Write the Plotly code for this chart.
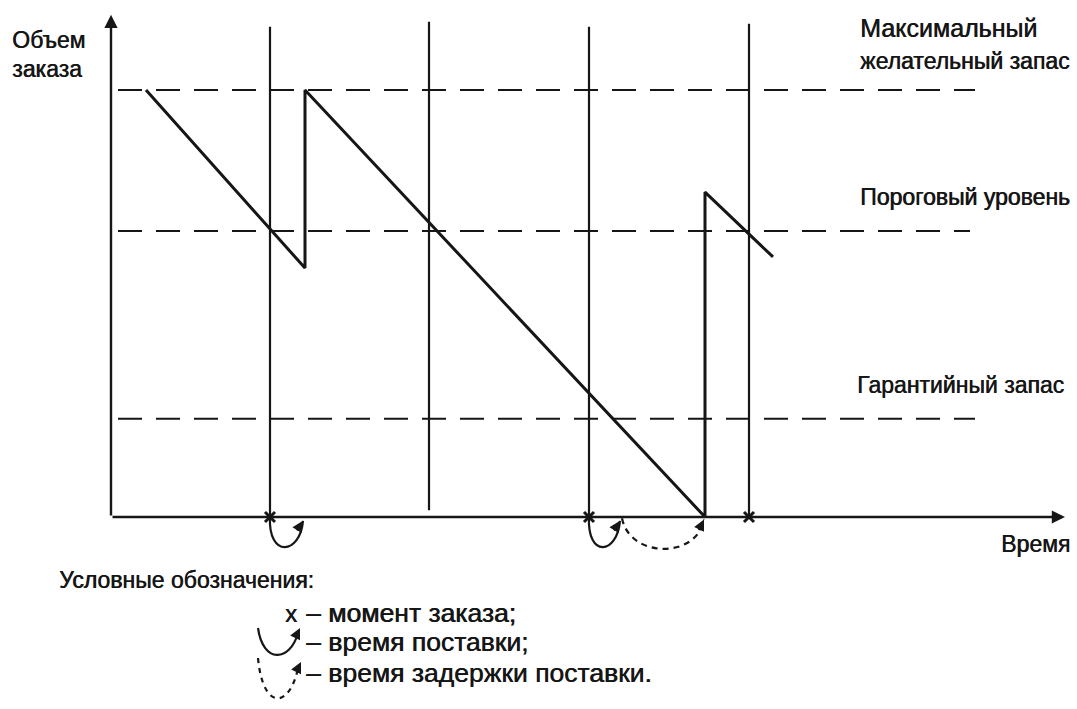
import plotly.graph_objects as go

# ---------------- data (time units, stock in % of max desired stock) -------------
stock_time = [3.5, 19.4, 19.4, 59.4, 59.4, 66.2]
stock_level = [100.0, 58.3, 100.0, 0.0, 76.1, 60.9]

order_times = [15.9, 47.8, 63.8]          # moments of order (x marks)
order_line_top = [114.8, 114.8, 115.5]
check_time = [31.8]                        # extra vertical line
check_line = [1.6, 116.0]

delivery_start = [15.9, 47.8]              # solid arcs: order -> delivery
delivery_end = [19.4, 51.1]
delay_start = [51.1]                       # dashed arc: delivery delay
delay_end = [59.4]

level_names = ["Максимальный<br>желательный запас", "Пороговый уровень", "Гарантийный запас"]
level_values = [100.0, 67.0, 23.0]
level_x_end = [86.4, 85.9, 86.4]
level_x_start = 0.7

x_axis_end = 95.4
y_axis_top = 117.6

INK = "#161616"
FONT = "Liberation Sans, Arial, sans-serif"
SHADOW = "0.6px 0px 0px #161616"
W, H = 1077, 709

fig = go.Figure()

# dashed level lines
for v, xe in zip(level_values, level_x_end):
    fig.add_trace(go.Scatter(x=[level_x_start, xe], y=[v, v], mode="lines",
                             line=dict(color=INK, width=2, dash="24px,14px"),
                             hoverinfo="skip", showlegend=False))

# vertical order lines
vx, vy = [], []
for t, top in zip(order_times, order_line_top):
    vx += [t, t, None]
    vy += [0, top, None]
vx += [check_time[0], check_time[0], None]
vy += [check_line[0], check_line[1], None]
fig.add_trace(go.Scatter(x=vx, y=vy, mode="lines", line=dict(color=INK, width=2.2),
                         hoverinfo="skip", showlegend=False))

# stock line
fig.add_trace(go.Scatter(x=stock_time, y=stock_level, mode="lines",
                         line=dict(color=INK, width=3), hoverinfo="skip", showlegend=False))

# order marks
fig.add_trace(go.Scatter(x=order_times, y=[0] * len(order_times), mode="markers",
                         marker=dict(symbol="x-thin", size=10,
                                     line=dict(color=INK, width=3)),
                         hoverinfo="skip", showlegend=False))

# axes with arrows
fig.add_annotation(x=0, y=y_axis_top, ax=0, ay=0, xref="x", yref="y", axref="x", ayref="y",
                   showarrow=True, arrowhead=2, arrowsize=1.1, arrowwidth=2.4,
                   arrowcolor=INK, text="")
fig.add_annotation(x=x_axis_end, y=0, ax=0, ay=0, xref="x", yref="y", axref="x", ayref="y",
                   showarrow=True, arrowhead=2, arrowsize=1.1, arrowwidth=2.4,
                   arrowcolor=INK, text="")

# delivery arcs (solid)
for t0, t1 in zip(delivery_start, delivery_end):
    path = f"M {t0},0 C {t0 - 0.2},-9.6 {t1 - 0.5},-8.9 {t1 - 0.2},-0.9"
    fig.add_shape(type="path", path=path, xref="x", yref="y",
                  line=dict(color=INK, width=2.2))
    fig.add_annotation(x=t1 - 0.2, y=-0.9, ax=-7, ay=11, xref="x", yref="y",
                       showarrow=True, arrowhead=2, arrowsize=1.1, arrowwidth=2,
                       arrowcolor=INK, text="")

# delay arc (dashed)
for t0, t1 in zip(delay_start, delay_end):
    path = f"M {t0},-0.3 C {t0 + 0.8},-9.8 {t1 - 0.8},-9.8 {t1 - 0.1},-0.6"
    fig.add_shape(type="path", path=path, xref="x", yref="y",
                  line=dict(color=INK, width=2.2, dash="6px,5px"))
    fig.add_annotation(x=t1 - 0.1, y=-0.6, ax=-6, ay=12, xref="x", yref="y",
                       showarrow=True, arrowhead=2, arrowsize=1.1, arrowwidth=2,
                       arrowcolor=INK, text="")


def px(x, y):
    return x / W, 1 - y / H


def text(s, x, y, size=23):
    xx, yy = px(x, y)
    fig.add_annotation(x=xx, y=yy, xref="paper", yref="paper", text=s, showarrow=False,
                       xanchor="left", yanchor="middle", align="left",
                       font=dict(family=FONT, size=size, color=INK, shadow=SHADOW))


text("Объем", 10, 40)
text("заказа", 10, 69)
text("Максимальный", 858, 28, 25)
text("желательный запас", 858, 61)
text(level_names[1], 858, 197)
text(level_names[2], 855, 385)
text("Время", 999, 544)
text("Условные обозначения:", 57, 580)
text("x", 283, 613, 24)
text("– момент заказа;", 304, 613, 26.5)
text("– время поставки;", 304, 642, 26.5)
text("– время задержки поставки.", 304, 673, 26.5)

# legend icons (paper coords)
def ppath(points):
    (x0, y0), (x1, y1), (x2, y2), (x3, y3) = [px(a, b) for a, b in points]
    return f"M {x0},{y0} C {x1},{y1} {x2},{y2} {x3},{y3}"


fig.add_shape(type="path", xref="paper", yref="paper",
              path=ppath([(258, 628), (263, 664), (290, 662), (298, 633)]),
              line=dict(color=INK, width=2.2))
xa, ya = px(300, 628)
fig.add_annotation(x=xa, y=ya, xref="paper", yref="paper", ax=-5, ay=10,
                   showarrow=True, arrowhead=2, arrowsize=1.1, arrowwidth=2,
                   arrowcolor=INK, text="")
fig.add_shape(type="path", xref="paper", yref="paper",
              path=ppath([(258, 658), (263, 712), (290, 708), (298, 668)]),
              line=dict(color=INK, width=2.2, dash="5px,5px"))
xa, ya = px(301, 662)
fig.add_annotation(x=xa, y=ya, xref="paper", yref="paper", ax=-5, ay=10,
                   showarrow=True, arrowhead=2, arrowsize=1.1, arrowwidth=2,
                   arrowcolor=INK, text="")

# axis ranges map the data onto the page
fig.update_xaxes(range=[-111 / 10, (W - 111) / 10], visible=False, fixedrange=True)
fig.update_yaxes(range=[(517 - H) / 4.27, 517 / 4.27], visible=False, fixedrange=True)
fig.update_layout(width=W, height=H, margin=dict(l=0, r=0, t=0, b=0),
                  paper_bgcolor="white", plot_bgcolor="white", showlegend=False)

fig.write_html("out.html", config={"displayModeBar": False},
               post_script="document.body.style.margin='0';document.body.style.overflow='hidden';")
